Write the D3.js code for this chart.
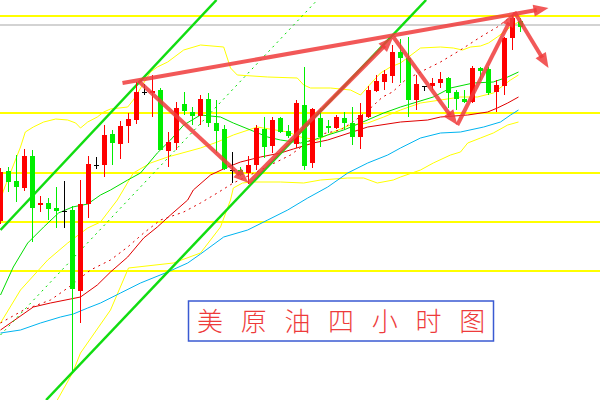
<!DOCTYPE html>
<html>
<head>
<meta charset="utf-8">
<script src="https://cdnjs.cloudflare.com/ajax/libs/d3/7.8.5/d3.min.js"></script>
<style>
  html, body { margin: 0; padding: 0; background: #fff; }
  svg { display: block; }
</style>
</head>
<body>
<svg></svg>
<script>
// 4h candles
const opens  = [77.9, 82.9, 81.9, 81.2, 84.4, 79.5, 79.7, 79.2, 78.9, 79.0,
                70.9, 79.6, 83.5, 83.5, 86.6, 85.6, 87.4, 88.0, 90.8, 90.7,
                91.0, 84.9, 85.7, 89.6, 88.8, 88.4, 90.1, 87.7, 87.1, 83.0,
                83.0, 82.7, 83.5, 87.1, 85.4, 88.2, 86.9, 85.6, 89.5, 83.7,
                88.2, 87.4, 87.2, 88.2, 87.7, 86.3, 88.3, 90.9, 91.8, 92.4,
                94.8, 94.2, 90.0, 91.4, 91.4, 91.7, 92.2, 90.8, 90.1, 89.8,
                93.2, 93.1, 90.8, 91.4, 96.2, 97.9]
const highs  = [83.2, 83.3, 84.5, 85.1, 85.0, 80.4, 80.2, 81.3, 81.9, 79.4,
                82.0, 84.4, 84.3, 87.5, 87.0, 87.9, 88.7, 91.8, 91.6, 92.5,
                91.2, 86.8, 89.8, 90.8, 89.3, 90.5, 90.7, 90.0, 87.5, 84.8,
                83.3, 84.4, 87.5, 88.3, 88.3, 88.3, 87.5, 90.0, 93.3, 89.2,
                89.2, 88.0, 88.5, 88.8, 89.3, 89.7, 91.4, 92.5, 93.0, 95.5,
                96.1, 96.3, 92.5, 91.4, 92.2, 92.8, 92.3, 91.0, 91.0, 93.4,
                93.3, 93.3, 92.0, 96.3, 98.5, 98.2]
const lows   = [77.6, 80.8, 79.8, 80.9, 75.8, 78.8, 78.0, 77.2, 77.2, 62.7,
                67.7, 78.2, 83.1, 82.3, 83.5, 84.1, 85.7, 87.6, 90.5, 88.3,
                85.0, 83.3, 85.0, 88.5, 87.5, 87.5, 87.3, 84.7, 83.0, 81.7,
                82.4, 81.6, 83.0, 84.2, 84.7, 86.7, 86.2, 85.2, 83.0, 83.2,
                85.3, 86.7, 87.1, 87.0, 85.5, 85.1, 88.2, 90.8, 91.0, 91.7,
                91.7, 88.3, 89.0, 90.9, 91.0, 91.2, 89.2, 89.0, 89.7, 89.7,
                92.0, 90.5, 88.8, 90.5, 95.0, 96.8]
const closes = [82.8, 81.8, 81.3, 84.4, 79.2, 79.7, 79.1, 78.9, 78.9, 71.1,
                79.6, 83.6, 83.5, 86.5, 85.7, 87.4, 88.1, 90.8, 90.8, 90.9,
                85.0, 85.8, 89.2, 88.9, 88.4, 90.1, 87.7, 86.9, 83.1, 83.0,
                82.5, 83.5, 87.2, 85.3, 88.0, 86.8, 86.4, 89.7, 83.4, 89.1,
                86.3, 87.2, 88.3, 87.7, 86.3, 88.5, 91.0, 91.9, 92.6, 94.8,
                94.2, 90.0, 91.6, 91.4, 91.7, 92.1, 90.7, 90.1, 89.8, 93.2,
                92.9, 90.7, 91.5, 96.2, 98.2, 97.3]

// indicator lines as [bar index, price]
const maGreen = [[0, 70.5], [1.6, 73.3], [3.4, 75.7], [5.4, 77.3], [7.25, 78.7], [9, 79.3],
                 [10.9, 79.6], [12.5, 80.5], [13.75, 81.0], [15.9, 82.0], [17.5, 82.7],
                 [19.6, 84.7], [21.25, 86.0], [22.9, 87.5], [25, 88.5], [27.5, 88.3],
                 [29.1, 87.7], [31.25, 87.0], [33.4, 86.3], [35, 86.0], [37.5, 85.7],
                 [39.1, 86.0], [40.9, 86.5], [42.9, 87.0], [45, 87.7], [47.9, 88.7],
                 [50, 89.3], [54.1, 90.3], [56.25, 91.2], [59.1, 91.7], [61.6, 91.8],
                 [63.4, 92.3], [64.75, 92.8]]
const maRed = [[0, 67.0], [4.1, 69.3], [6.25, 69.7], [8.75, 70.1], [10, 70.3], [12.1, 71.5],
               [13.75, 72.8], [15.9, 74.3], [17.9, 76.2], [19.6, 77.3], [21.25, 78.5],
               [23.4, 80.0], [24.1, 81.0], [26.25, 82.5], [28.4, 83.3], [30, 83.8],
               [32.5, 84.3], [35, 84.7], [36.6, 85.1], [39.1, 85.7], [40.9, 86.0],
               [45.9, 87.3], [50, 87.8], [53.4, 88.0], [55, 88.3], [58.4, 88.5],
               [60.9, 88.8], [62.1, 89.2], [63.4, 89.7], [64.75, 90.3]]
const maRedDash = [[0, 67.7], [2.9, 69.0], [6.25, 70.0], [8.4, 71.2], [11.25, 73.0], [13.75, 74.0],
                   [15.9, 75.3], [17.9, 76.7], [20, 78.0], [22.9, 78.8], [25, 79.7],
                   [27.1, 80.7], [29.1, 81.7], [32.5, 83.0], [36.25, 84.5], [39.6, 86.5],
                   [42.5, 87.0], [44.4, 88.0], [46, 89.0], [47.75, 90.3], [49, 90.8],
                   [50.6, 92.0], [52.25, 92.7], [55, 93.8], [57.5, 95.0], [60, 96.3],
                   [62.1, 97.3], [63.75, 98.3]]
const maBlue = [[0, 66.7], [2.5, 67.0], [5, 67.7], [7.5, 68.3], [9.1, 68.6], [10.9, 69.2],
                [12.5, 69.7], [15, 70.7], [17.5, 71.7], [20.9, 72.8], [23.4, 73.7],
                [25, 74.6], [27.9, 76.3], [30.9, 77.0], [33.4, 78.0], [35.9, 79.0],
                [38.4, 80.2], [40.9, 81.3], [43.4, 82.7], [45.9, 83.7], [48.4, 84.5],
                [50, 85.2], [52.5, 86.2], [55, 86.7], [57.5, 86.8], [60.4, 87.3],
                [62.5, 87.8], [63.75, 88.5], [64.75, 89.0]]
const bandUpper = [[0, 80.0], [0.4, 81.0], [2.5, 85.3], [3.1, 86.8], [4.1, 87.3], [5.4, 87.8],
                   [6.9, 88.1], [8.4, 88.0], [9.4, 87.7], [10, 87.2], [10.9, 87.8],
                   [12.1, 88.3], [12.9, 88.8], [13.75, 89.1], [15.9, 89.3], [16.6, 90.0],
                   [18.75, 92.8], [19.6, 93.3], [20.9, 93.8], [22.9, 95.0], [25, 95.5],
                   [27.9, 95.3], [28.75, 93.2], [29.6, 92.5], [33.4, 92.3], [37.1, 92.2],
                   [37.9, 91.5], [38.75, 91.2], [41.25, 91.2], [43.75, 91.0], [45, 90.5],
                   [45.9, 91.3], [47.5, 92.7], [48.75, 93.3], [50, 93.7], [52.5, 95.2],
                   [55, 95.3], [56.6, 95.2], [57.75, 95.0], [58.75, 95.3], [60, 95.4],
                   [61, 95.7], [62.1, 96.3], [63.75, 97.3], [64.75, 97.8]]
const bandMid = [[0, 67.7], [2.5, 71.0], [5.9, 74.0], [8.4, 75.7], [10.9, 77.2], [12.5, 77.8],
                 [14.6, 80.0], [16.6, 82.7], [18.75, 83.7], [20.9, 84.3], [25, 85.2],
                 [27.1, 85.8], [29.1, 86.5], [32.1, 87.3], [35.9, 86.8], [37.5, 86.3],
                 [39.6, 86.0], [41.6, 86.8], [43.75, 87.5], [45.9, 87.7], [47.9, 88.3],
                 [50, 89.0], [52.5, 89.7], [55, 90.0], [57.5, 90.3], [59.6, 90.3],
                 [61.6, 90.7], [63.75, 92.0], [64.75, 92.5]]
const bandLower = [[6.9, 59.5], [7.1, 60.0], [9, 62.7], [10, 64.7], [13.75, 69.0], [16, 73.2],
                   [21.6, 73.7], [25, 74.7], [27.5, 77.3], [28.75, 80.0], [29.1, 81.2],
                   [30.25, 81.7], [31.25, 81.8], [35, 81.8], [37.9, 81.7], [40, 82.0],
                   [43.4, 82.2], [45.4, 82.2], [47.1, 81.7], [49.1, 82.0], [50, 82.3],
                   [52.5, 83.0], [54.1, 83.7], [56.25, 84.5], [57.5, 84.8], [58.4, 85.7],
                   [60, 86.2], [61.6, 86.7], [63.4, 87.5], [64.75, 87.8]]

// drawn objects
const yellowLevels = [98.4, 88.7, 82.7, 77.8, 72.9]
const grayLevels = [97.5]
const channelUpper = [[0, 77.0], [27, 100]]
const channelMid = [[0, 66.5], [39.6, 100]]
const channelLower = [[5.7, 60], [53.2, 100]]
const trendArrow = [[15.25, 91.7], [68.5, 99.2]]
const swingArrows = [[17.25, 91.9], [31, 81.7], [49.1, 96.3], [57.1, 87.5], [64.25, 98.8], [68.5, 93.2]]
const title = ['美', '原', '油', '四', '小', '时', '图']

const width = 600
const height = 400

const svg = d3.select('svg')
  .attr('width', width)
  .attr('height', height)

svg.append('defs').append('clipPath')
  .attr('id', 'plot')
  .append('rect')
  .attr('width', width)
  .attr('height', height)

const g = svg.append('g').attr('clip-path', 'url(#plot)')

const x = d3.scaleLinear().domain([0, 65]).range([0.5, 520.5])
const y = d3.scaleLinear().domain([60, 100]).range([400, 0])

const line = d3.line().x(d => x(d[0])).y(d => y(d[1]))

// horizontal levels
g.selectAll('.level')
  .data(yellowLevels)
  .enter()
  .append('line')
  .attr('x1', 0).attr('x2', width)
  .attr('y1', d => y(d)).attr('y2', d => y(d))
  .style('stroke', '#ffff00')
  .style('stroke-width', 2)

g.selectAll('.gray')
  .data(grayLevels)
  .enter()
  .append('line')
  .attr('x1', 0).attr('x2', width)
  .attr('y1', d => y(d)).attr('y2', d => y(d))
  .style('stroke', '#c4c4c4')
  .style('stroke-width', 1.5)

// moving averages and bands
const series = [
  {data: bandUpper, color: '#ffff00'},
  {data: bandMid, color: '#ffff00'},
  {data: bandLower, color: '#ffff00'},
  {data: maBlue, color: '#00b4f0'},
  {data: maRed, color: '#e00000'},
  {data: maGreen, color: '#00dd00'},
  {data: maRedDash, color: '#e00000', dash: '2,4'}
]

g.selectAll('.ma')
  .data(series)
  .enter()
  .append('path')
  .attr('d', d => line(d.data))
  .style('fill', 'none')
  .style('stroke', d => d.color)
  .style('stroke-width', 1)
  .style('stroke-dasharray', d => d.dash || null)

// channel
g.append('path')
  .attr('d', line(channelMid))
  .style('stroke', '#00dd00')
  .style('stroke-width', 1)
  .style('stroke-dasharray', '2,4')

g.selectAll('.channel')
  .data([channelUpper, channelLower])
  .enter()
  .append('path')
  .attr('d', line)
  .style('stroke', '#11dd11')
  .style('stroke-width', 2.5)

// candles
const bars = d3.range(opens.length)
const candleColor = i => closes[i] > opens[i] ? '#ff0000' : (closes[i] < opens[i] ? '#00ee00' : '#000000')

g.selectAll('.wick')
  .data(bars)
  .enter()
  .append('line')
  .attr('x1', i => x(i)).attr('x2', i => x(i))
  .attr('y1', i => y(highs[i])).attr('y2', i => y(lows[i]))
  .style('stroke', candleColor)
  .style('stroke-width', 1)

g.selectAll('.body')
  .data(bars)
  .enter()
  .append('rect')
  .attr('x', i => x(i) - 2.5)
  .attr('width', 5)
  .attr('y', i => y(Math.max(opens[i], closes[i])))
  .attr('height', i => Math.max(1, Math.abs(y(opens[i]) - y(closes[i]))))
  .style('fill', candleColor)

// arrows
function drawArrow(a, b) {
  const x1 = x(a[0]), y1 = y(a[1]), x2 = x(b[0]), y2 = y(b[1])
  const ang = Math.atan2(y2 - y1, x2 - x1)
  const len = 15, half = 6
  const bx = x2 - len * Math.cos(ang), by = y2 - len * Math.sin(ang)
  g.append('line')
    .attr('x1', x1).attr('y1', y1)
    .attr('x2', bx + 3 * Math.cos(ang)).attr('y2', by + 3 * Math.sin(ang))
    .style('stroke', '#f03c3c')
    .style('stroke-width', 4)
    .style('opacity', 0.85)
  g.append('path')
    .attr('d', `M${x2},${y2}L${bx - half * Math.sin(ang)},${by + half * Math.cos(ang)}L${bx + half * Math.sin(ang)},${by - half * Math.cos(ang)}Z`)
    .style('fill', '#f03c3c')
    .style('opacity', 0.85)
}

drawArrow(trendArrow[0], trendArrow[1])
for (let i = 1; i < swingArrows.length; i++) {
  drawArrow(swingArrows[i - 1], swingArrows[i])
}

// title box
svg.append('rect')
  .attr('x', 188.5).attr('y', 301)
  .attr('width', 305).attr('height', 40)
  .style('fill', '#fff')
  .style('stroke', '#3a5ad2')
  .style('stroke-width', 1.5)

svg.selectAll('.title')
  .data(title)
  .enter()
  .append('text')
  .attr('x', (d, i) => 210 + i * 43.7)
  .attr('y', 331)
  .attr('text-anchor', 'middle')
  .style('font-family', '"Noto Sans CJK SC", sans-serif')
  .style('font-size', '26px')
  .style('font-weight', 300)
  .style('fill', '#ee3b3b')
  .text(d => d)
</script>
</body>
</html>
